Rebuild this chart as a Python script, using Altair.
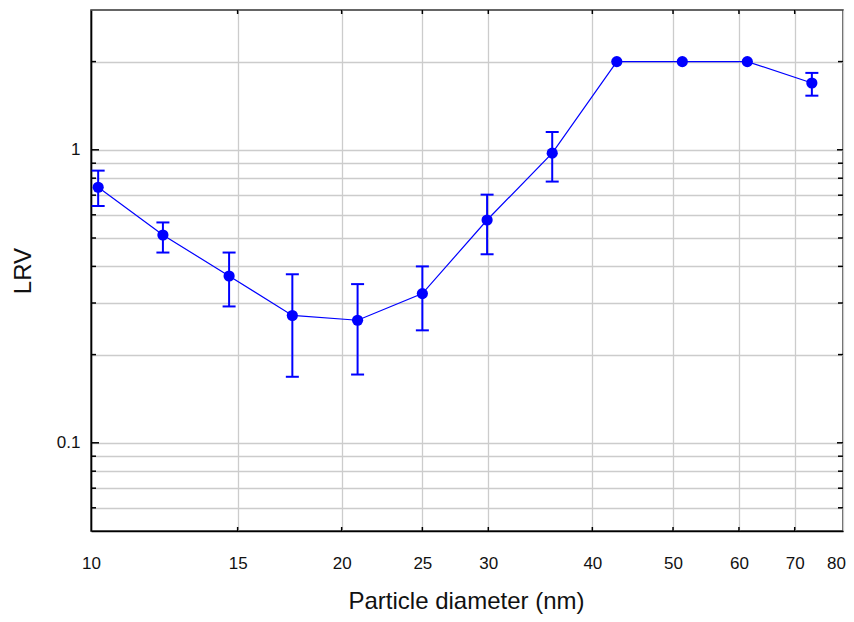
import altair as alt
import pandas as pd

# ---- data ----
diameter = [10.2, 12.2, 14.65, 17.45, 20.9, 25.0, 29.9, 35.8, 42.8, 51.3, 61.4, 73.4]
lrv = [0.745, 0.512, 0.371, 0.272, 0.262, 0.323, 0.576, 0.974, 2.0, 2.0, 2.0, 1.69]
lrv_lo = [0.643, 0.446, 0.292, 0.168, 0.171, 0.242, 0.44, 0.779, None, None, None, 1.53]
lrv_hi = [0.849, 0.565, 0.446, 0.376, 0.348, 0.40, 0.703, 1.15, None, None, None, 1.83]

x_tick_values = [10, 15, 20, 25, 30, 40, 50, 60, 70, 80]
x_inner_ticks = [15, 20, 25, 30, 40, 50, 60, 70]
y_grid_values = [0.06, 0.07, 0.08, 0.09, 0.1, 0.2, 0.3, 0.4, 0.5, 0.6, 0.7, 0.8, 0.9, 1, 2]
y_major_values = [0.1, 1]
y_major_labels = ["0.1", "1"]
y_minor_values = [v for v in y_grid_values if v not in y_major_values]

x_domain = [10, 80]
y_domain = [0.05, 3]

W, H = 752, 521
BLUE = "#0000ff"
FONT = "Liberation Sans"

df = pd.DataFrame({"d": diameter, "lrv": lrv, "lo": lrv_lo, "hi": lrv_hi})
err = df.dropna()

xs = alt.Scale(type="log", domain=x_domain, nice=False)
ys = alt.Scale(type="log", domain=y_domain, nice=False)

label_expr = " : ".join(
    [f"datum.value == {v} ? '{t}'" for v, t in zip(y_major_values, y_major_labels)]
) + " : ''"

x_axis = alt.Axis(
    values=x_tick_values, format="~g", grid=True, gridColor="#cccccc", gridWidth=1.3,
    ticks=False, tickSize=0, domain=True, domainColor="#000000", domainWidth=1.6,
    labelFont=FONT, labelFontSize=17, labelColor="#111111", labelPadding=37,
    labelBaseline="alphabetic", labelFlush=False, labelOverlap=False,
    labelOffset={"expr": f"datum.value == {x_domain[1]} ? -7 : 0"},
    title="Particle diameter (nm)", titleFont=FONT, titleFontSize=24,
    titleFontWeight="normal", titleColor="#111111", titleX=375, titleY=77,
    titleAlign="center", titleBaseline="alphabetic",
)
y_axis = alt.Axis(
    values=y_grid_values, labelExpr=label_expr, grid=True, gridColor="#cccccc",
    gridWidth=1.3, ticks=False, tickSize=0, domain=True, domainColor="#000000",
    domainWidth=1.6, labelFont=FONT, labelFontSize=17, labelColor="#111111",
    labelPadding=11, labelBaseline="middle", labelOverlap=False, labelFlush=False,
    title="LRV", titleFont=FONT, titleFontSize=24, titleFontWeight="normal",
    titleColor="#111111", titleX=-61, titleY=260.5, titleAngle=270,
    titleAlign="center", titleBaseline="alphabetic",
)

base = alt.Chart(df)

line = base.mark_line(color=BLUE, strokeWidth=1.2).encode(
    x=alt.X("d:Q", scale=xs, axis=x_axis),
    y=alt.Y("lrv:Q", scale=ys, axis=y_axis),
)
points = base.mark_circle(color=BLUE, opacity=1, size=125).encode(
    x=alt.X("d:Q", scale=xs, axis=x_axis),
    y=alt.Y("lrv:Q", scale=ys, axis=y_axis),
)
ebase = alt.Chart(err)
bars = ebase.mark_rule(color=BLUE, strokeWidth=2).encode(
    x=alt.X("d:Q", scale=xs, axis=x_axis),
    y=alt.Y("lo:Q", scale=ys, axis=y_axis),
    y2="hi:Q",
)
cap_lo = ebase.mark_tick(color=BLUE, orient="horizontal", size=13, thickness=2, opacity=1).encode(
    x=alt.X("d:Q", scale=xs, axis=x_axis),
    y=alt.Y("lo:Q", scale=ys, axis=y_axis),
)
cap_hi = ebase.mark_tick(color=BLUE, orient="horizontal", size=13, thickness=2, opacity=1).encode(
    x=alt.X("d:Q", scale=xs, axis=x_axis),
    y=alt.Y("hi:Q", scale=ys, axis=y_axis),
)

# inward frame ticks
ymaj = pd.DataFrame({"v": y_major_values})
ymin = pd.DataFrame({"v": y_minor_values})
xin = pd.DataFrame({"v": x_inner_ticks})

def yticks(data, x0, x1):
    return alt.Chart(data).mark_rule(color="#000000", strokeWidth=1.5).encode(
        y=alt.Y("v:Q", scale=ys, axis=y_axis), x=alt.value(x0), x2=alt.value(x1)
    )

def xticks(data, y0, y1):
    return alt.Chart(data).mark_rule(color="#000000", strokeWidth=1.5).encode(
        x=alt.X("v:Q", scale=xs, axis=x_axis), y=alt.value(y0), y2=alt.value(y1)
    )

ticks = [
    yticks(ymaj, 0, 8), yticks(ymin, 0, 5),
    yticks(ymaj, W - 6, W), yticks(ymin, W - 5, W),
    xticks(xin, H, H - 4), xticks(xin, 0, 4),
]

chart = alt.layer(line, *ticks, bars, cap_lo, cap_hi, points).properties(
    width=W, height=H, background="#ffffff",
    padding={"left": 83, "top": 2, "right": 3, "bottom": 83},
    autosize=alt.AutoSizeParams(type="none"),
).configure_view(stroke="#333333", strokeWidth=1.5)

chart.save("out.html", embed_options={"renderer": "svg", "actions": False})
